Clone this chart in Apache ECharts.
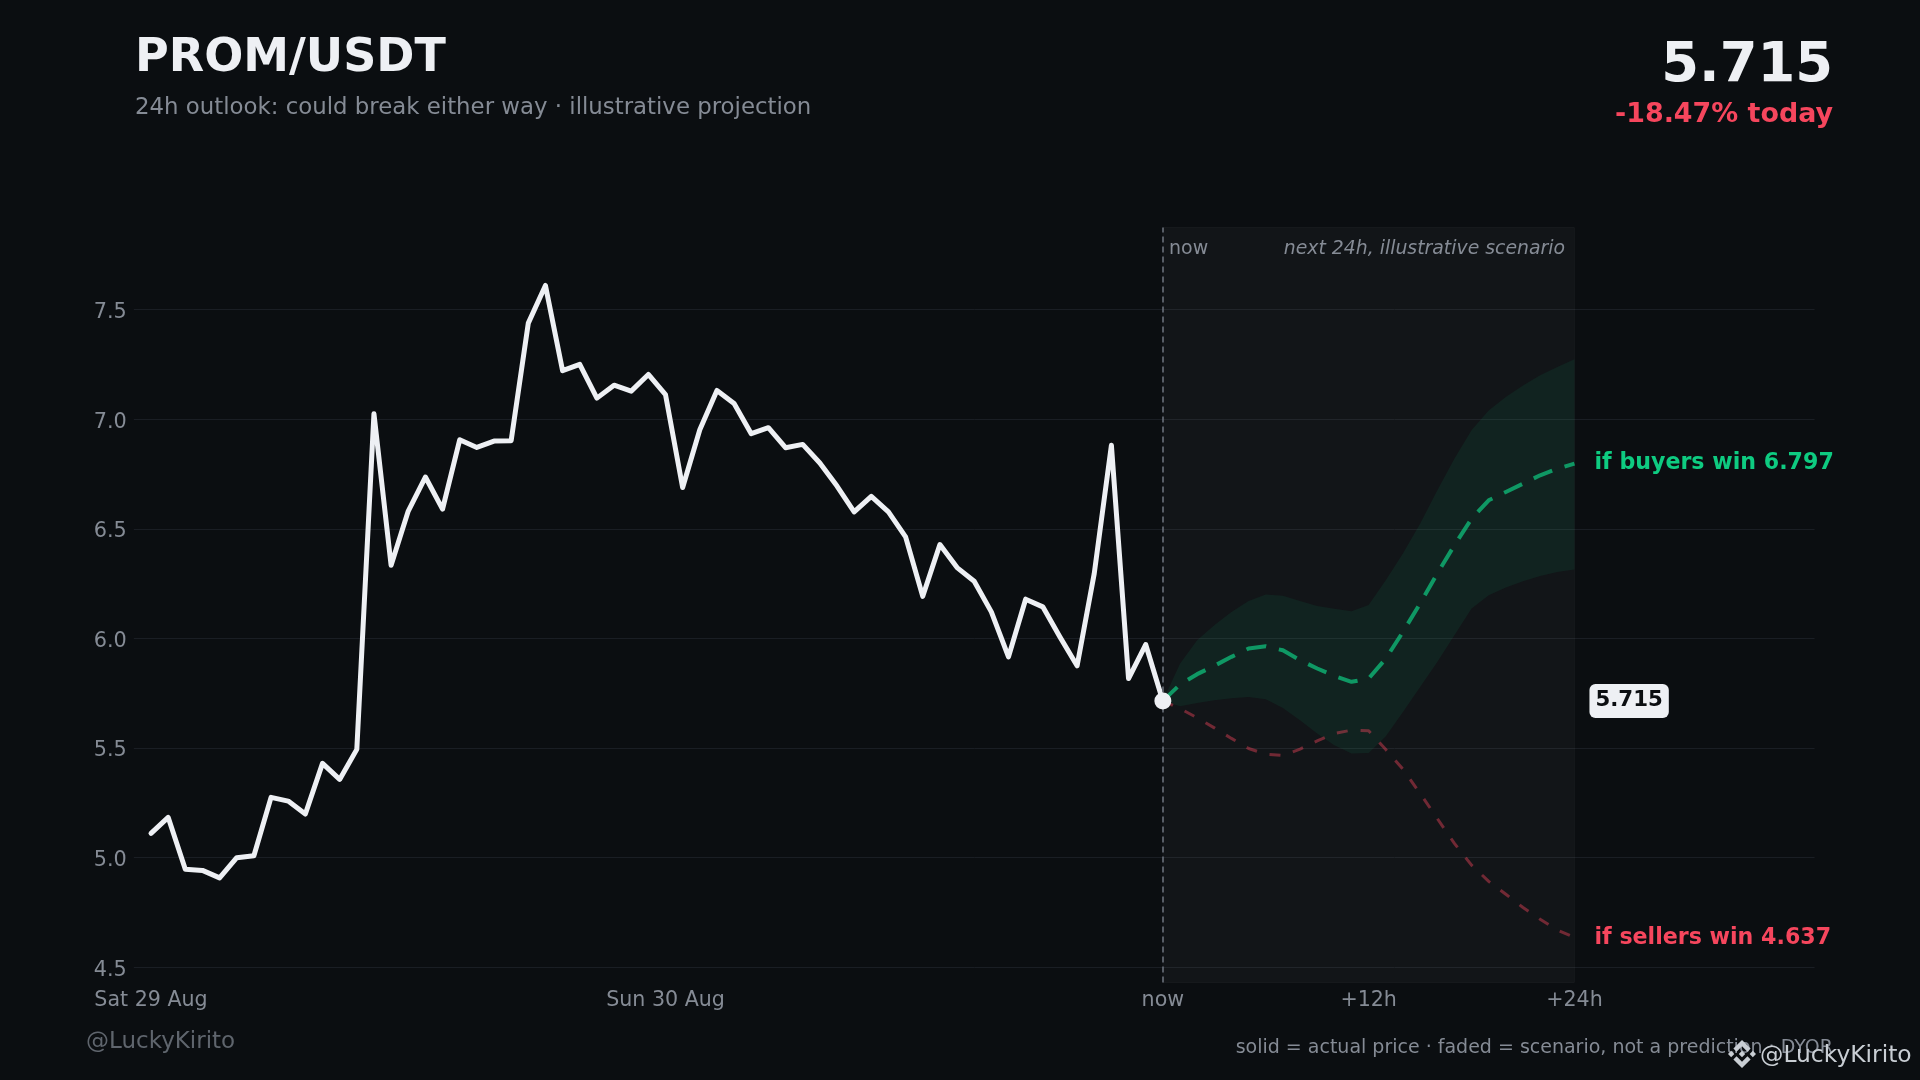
<!DOCTYPE html>
<html><head><meta charset="utf-8">
<style>html,body{margin:0;padding:0;background:#0b0e11}#c{width:1920px;height:1080px}</style>
<script src="https://cdn.jsdelivr.net/npm/echarts@6/dist/echarts.min.js"></script>
</head><body><div id="c"></div>
<script>
const price = [5.111,5.184,4.947,4.942,4.908,5.000,5.009,5.275,5.258,5.199,5.430,5.357,5.494,7.025,6.334,6.581,6.736,6.590,6.906,6.871,6.900,6.902,7.438,7.610,7.221,7.250,7.096,7.155,7.128,7.204,7.112,6.688,6.952,7.131,7.071,6.934,6.961,6.870,6.885,6.800,6.695,6.577,6.648,6.577,6.463,6.192,6.428,6.323,6.261,6.121,5.916,6.179,6.144,6.007,5.875,6.296,6.881,5.817,5.972,5.715];
const buyers = [5.715,5.790,5.837,5.875,5.916,5.954,5.964,5.946,5.901,5.863,5.829,5.802,5.817,5.908,6.030,6.159,6.296,6.425,6.546,6.630,6.668,6.706,6.744,6.774,6.797];
const sellers = [5.715,5.680,5.638,5.592,5.544,5.498,5.472,5.466,5.495,5.533,5.566,5.582,5.579,5.493,5.404,5.293,5.179,5.065,4.966,4.892,4.833,4.773,4.719,4.670,4.637];
const bandUpper = [5.715,5.885,5.992,6.060,6.121,6.171,6.200,6.195,6.171,6.148,6.135,6.124,6.153,6.265,6.387,6.523,6.675,6.820,6.949,7.040,7.101,7.154,7.200,7.238,7.273];
const bandLower = [5.715,5.691,5.706,5.718,5.727,5.733,5.723,5.683,5.627,5.566,5.513,5.475,5.477,5.554,5.665,5.779,5.893,6.015,6.136,6.197,6.232,6.261,6.285,6.303,6.314];
const xTickValues = [0,30,59,71,83];
const xTickLabels = ['Sat 29 Aug','Sun 30 Aug','now','+12h','+24h'];
const yTicks = [4.5,5.0,5.5,6.0,6.5,7.0,7.5];
const NOW = 59, END = 83, LAST = 5.715;

const F = '"DejaVu Sans"';
const GREEN = '#0ecb81', RED = '#f6465d', WHITE = '#eef0f4', GREY = '#858b95';
const fx = (arr) => arr.map((v,i)=>[NOW+i,v]);
const chart = echarts.init(document.getElementById('c'), null, {width:1920,height:1080});

function txt(x,y,text,size,fill,opts){
  return {type:'text',silent:true,x,y,z:opts&&opts.z||50,style:{text,fill,font:(opts&&opts.font||'')+' '+size+'px '+F,
    textAlign:opts&&opts.align||'left',textVerticalAlign:'middle'}};
}
const LOGO_X = 1742, LOGO_Y = 1054, LOGO_S = 14/63.3;
const logoShapes = [
  [[38.73,53.2],[63.32,28.62],[87.92,53.22],[102.22,38.91],[63.32,0],[24.42,38.9]],
  [[0,63.31],[14.3,49],[28.61,63.31],[14.3,77.61]],
  [[38.73,73.41],[63.32,98],[87.92,73.4],[102.23,87.69],[63.33,126.6],[24.42,87.72]],
  [[98,63.31],[112.3,49],[126.61,63.3],[112.3,77.62]],
  [[77.83,63.3],[63.32,48.78],[48.81,63.28],[63.32,77.78]]
].map(pts=>({type:'polygon',silent:true,z:51,
  shape:{points:pts.map(p=>[LOGO_X+(p[0]-63.3)*LOGO_S,LOGO_Y+(p[1]-63.3)*LOGO_S])},style:{fill:'#c9ced4'}}));

function renderBand(params, api){
  if(params.dataIndex!==0) return null;
  const up = bandUpper.map((v,i)=>api.coord([NOW+i,v]));
  const lo = bandLower.map((v,i)=>api.coord([NOW+i,v])).reverse();
  return {type:'polygon',silent:true,shape:{points:up.concat(lo)},style:{fill:GREEN,opacity:0.08}};
}

chart.setOption({
  animation:false,
  backgroundColor:'#0b0e11',
  grid:{left:133.85,right:105.45,top:227.5,bottom:97.5,containLabel:false},
  xAxis:{type:'value',min:-1,max:97,axisLine:{show:false},axisTick:{show:false},splitLine:{show:false},
    axisLabel:{customValues:xTickValues,color:GREY,fontFamily:F,fontSize:20.6,margin:7.5,verticalAlign:'top',
      formatter:v=>xTickLabels[xTickValues.indexOf(v)]||''}},
  yAxis:{type:'value',min:4.4307,max:7.8742,axisLine:{show:false},
    axisTick:{show:false,customValues:yTicks},
    splitLine:{show:true,lineStyle:{color:'#1a1e24',width:1}},
    axisLabel:{customValues:yTicks,color:GREY,fontFamily:F,fontSize:20.8,margin:7,verticalAlign:'top',padding:[-7.5,0,0,0],formatter:v=>v.toFixed(1)}},
  series:[
    {name:'window',type:'line',data:[],z:1,silent:true,
      markArea:{silent:true,itemStyle:{color:'rgba(255,255,255,0.03)',borderColor:'rgba(255,255,255,0.035)',borderWidth:1},
        data:[[{xAxis:NOW,yAxis:4.4307},{xAxis:END,yAxis:7.8742}]]},
      markLine:{silent:true,symbol:'none',label:{show:false},lineStyle:{color:'#6f7580',width:1.5,type:[6,4]},
        data:[{xAxis:NOW}]}},
    {name:'band',type:'custom',renderItem:renderBand,z:2,silent:true,
      data:bandUpper.map((u,i)=>[NOW+i,bandLower[i],u]),encode:{x:0,y:[1,2]}},
    {name:'sellers',type:'line',data:fx(sellers),showSymbol:false,z:3,
      lineStyle:{color:RED,opacity:0.42,width:3,type:[11,13]},
      endLabel:{show:true,formatter:'if sellers win 4.637',color:RED,fontFamily:F,fontWeight:'bold',fontSize:22.15,distance:20,offset:[0,0.5]}},
    {name:'buyers',type:'line',data:fx(buyers),showSymbol:false,z:3,
      lineStyle:{color:GREEN,opacity:0.7,width:4,type:[20,13]},
      endLabel:{show:true,formatter:'if buyers win 6.797',color:GREEN,fontFamily:F,fontWeight:'bold',fontSize:22.15,distance:20,offset:[0,-0.5]}},
    {name:'price',type:'line',data:price.map((v,i)=>[i,v]),showSymbol:false,z:4,
      lineStyle:{color:WHITE,width:5,cap:'round',join:'round'}},
    {name:'now',type:'scatter',data:[[NOW,LAST]],symbolSize:17,z:5,itemStyle:{color:WHITE,opacity:1}},
    {name:'last badge',type:'scatter',data:[[END,LAST]],symbolSize:0,z:6,silent:true,itemStyle:{opacity:1},
      label:{show:true,position:'right',distance:15,formatter:'5.715',color:'#0b0e11',backgroundColor:WHITE,fontFamily:F,fontWeight:'bold',
        fontSize:21.3,padding:[7,6,6,6],borderRadius:6,opacity:1}}
  ],
  graphic:[
    txt(135,59,'PROM/USDT',46,WHITE,{font:'bold'}),
    txt(135,108,'24h outlook: could break either way · illustrative projection',22.85,GREY),
    txt(1833,67,'5.715',54.3,WHITE,{font:'bold',align:'right'}),
    txt(1833,115.5,'-18.47% today',26.9,RED,{font:'bold',align:'right'}),
    txt(1169,249,'now',19,GREY),
    txt(1565,249,'next 24h, illustrative scenario',18.85,GREY,{font:'italic',align:'right'}),
    txt(86,1042.5,'@LuckyKirito',23,'#5f656d'),
    txt(1833,1048.5,'solid = actual price · faded = scenario, not a prediction · DYOR',19,GREY,{align:'right'}),
    txt(1760,1056,'@LuckyKirito',23.4,'#c9ced4'),
    ...logoShapes
  ]
});
</script></body></html>
